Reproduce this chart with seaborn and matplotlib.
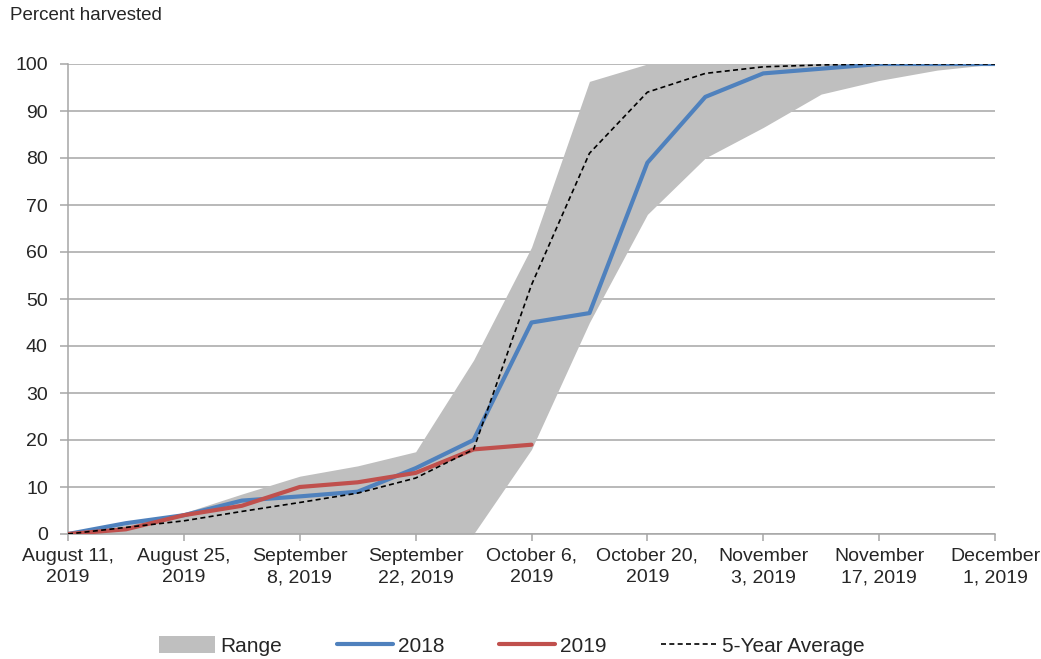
import matplotlib
matplotlib.use("Agg")
import matplotlib.pyplot as plt
import seaborn as sns
import pandas as pd
from matplotlib.patches import Patch
from matplotlib.lines import Line2D

# ---- data ----
dates = pd.date_range("2019-08-11", "2019-12-01", freq="7D")
range_low = [0, 0, 0, 0, 0, 0, 0, 0, 18, 45, 68, 80, 86.5, 93.6, 96.5, 98.7, 100]
range_high = [0, 2, 4.5, 8.5, 12.3, 14.5, 17.5, 37, 61, 96.3, 100, 100, 100, 100, 100, 100, 100]
y2018 = [0, 2.3, 4, 7.1, 8, 9, 14, 20, 45, 47, 79, 93, 98, 99, 100, 100, 100]
y2019 = [0, 1, 4, 6, 10, 11, 13, 18, 19]
avg5 = [0, 1.4, 2.8, 4.8, 6.7, 8.7, 11.9, 18, 53, 81, 94, 98, 99.4, 99.8, 100, 100, 100]
tick_labels = ["August 11,\n2019", "August 25,\n2019", "September\n8, 2019",
               "September\n22, 2019", "October 6,\n2019", "October 20,\n2019",
               "November\n3, 2019", "November\n17, 2019", "December\n1, 2019"]
legend_labels = ["Range", "2018", "2019", "5-Year Average"]
y_ticks = [0, 10, 20, 30, 40, 50, 60, 70, 80, 90, 100]

# ---- style ----
sns.set_theme(style="white")
plt.rcParams['font.family'] = ['Liberation Sans', 'DejaVu Sans']

GRAY_FILL = "#BFBFBF"
BLUE = "#4F81BD"
RED = "#C0504D"
GRID = "#A6A6A6"

W, H = 1041, 659
fig = plt.figure(figsize=(W / 100, H / 100), dpi=100)
ax = fig.add_axes([68 / W, 1 - 534 / H, (995 - 68) / W, (534 - 64) / H])

ax.fill_between(dates, range_low, range_high, color=GRAY_FILL, lw=0, zorder=1)
sns.lineplot(x=dates, y=y2018, color=BLUE, lw=3.0, ax=ax, zorder=3)
sns.lineplot(x=dates[:len(y2019)], y=y2019, color=RED, lw=3.0, ax=ax, zorder=4)
sns.lineplot(x=dates, y=avg5, color="black", lw=1.2, ax=ax, zorder=5,
             linestyle=(0, (3, 2)))

ax.set_xlim(dates[0], dates[-1])
ax.set_ylim(0, 100)
ax.set_yticks(y_ticks)
ax.set_xticks(dates[::2])
ax.set_xticklabels(tick_labels, linespacing=1.35)
ax.yaxis.grid(True, color=GRID, lw=1.1, zorder=0)
ax.xaxis.grid(False)
ax.set_axisbelow(True)
for s in ["top", "right"]:
    ax.spines[s].set_visible(False)
for s in ["left", "bottom"]:
    ax.spines[s].set_color(GRID)
    ax.spines[s].set_linewidth(1.1)
ax.tick_params(axis="x", direction="out", length=5, width=1.1, color=GRID,
               labelsize=14, pad=5, bottom=True)
ax.tick_params(axis="y", direction="out", length=6, width=1.1, color=GRID,
               labelsize=14, pad=8.5, left=True)
ax.set_xlabel("")
ax.set_ylabel("")

fig.text(10 / W, 1 - 16 / H, "Percent harvested", fontsize=13.5, va="center", ha="left")

handles = [Patch(facecolor=GRAY_FILL, edgecolor="none"),
           Line2D([], [], color=BLUE, lw=3.0),
           Line2D([], [], color=RED, lw=3.0),
           Line2D([], [], color="black", lw=1.2, linestyle=(0, (3, 2)))]
fig.legend(handles, legend_labels, loc="center", bbox_to_anchor=(512 / W, 1 - 646 / H),
           ncol=4, frameon=False, fontsize=15, handlelength=2.7, handleheight=0.9,
           handletextpad=0.25, columnspacing=2.6)

fig.savefig("out.png", dpi=100)
